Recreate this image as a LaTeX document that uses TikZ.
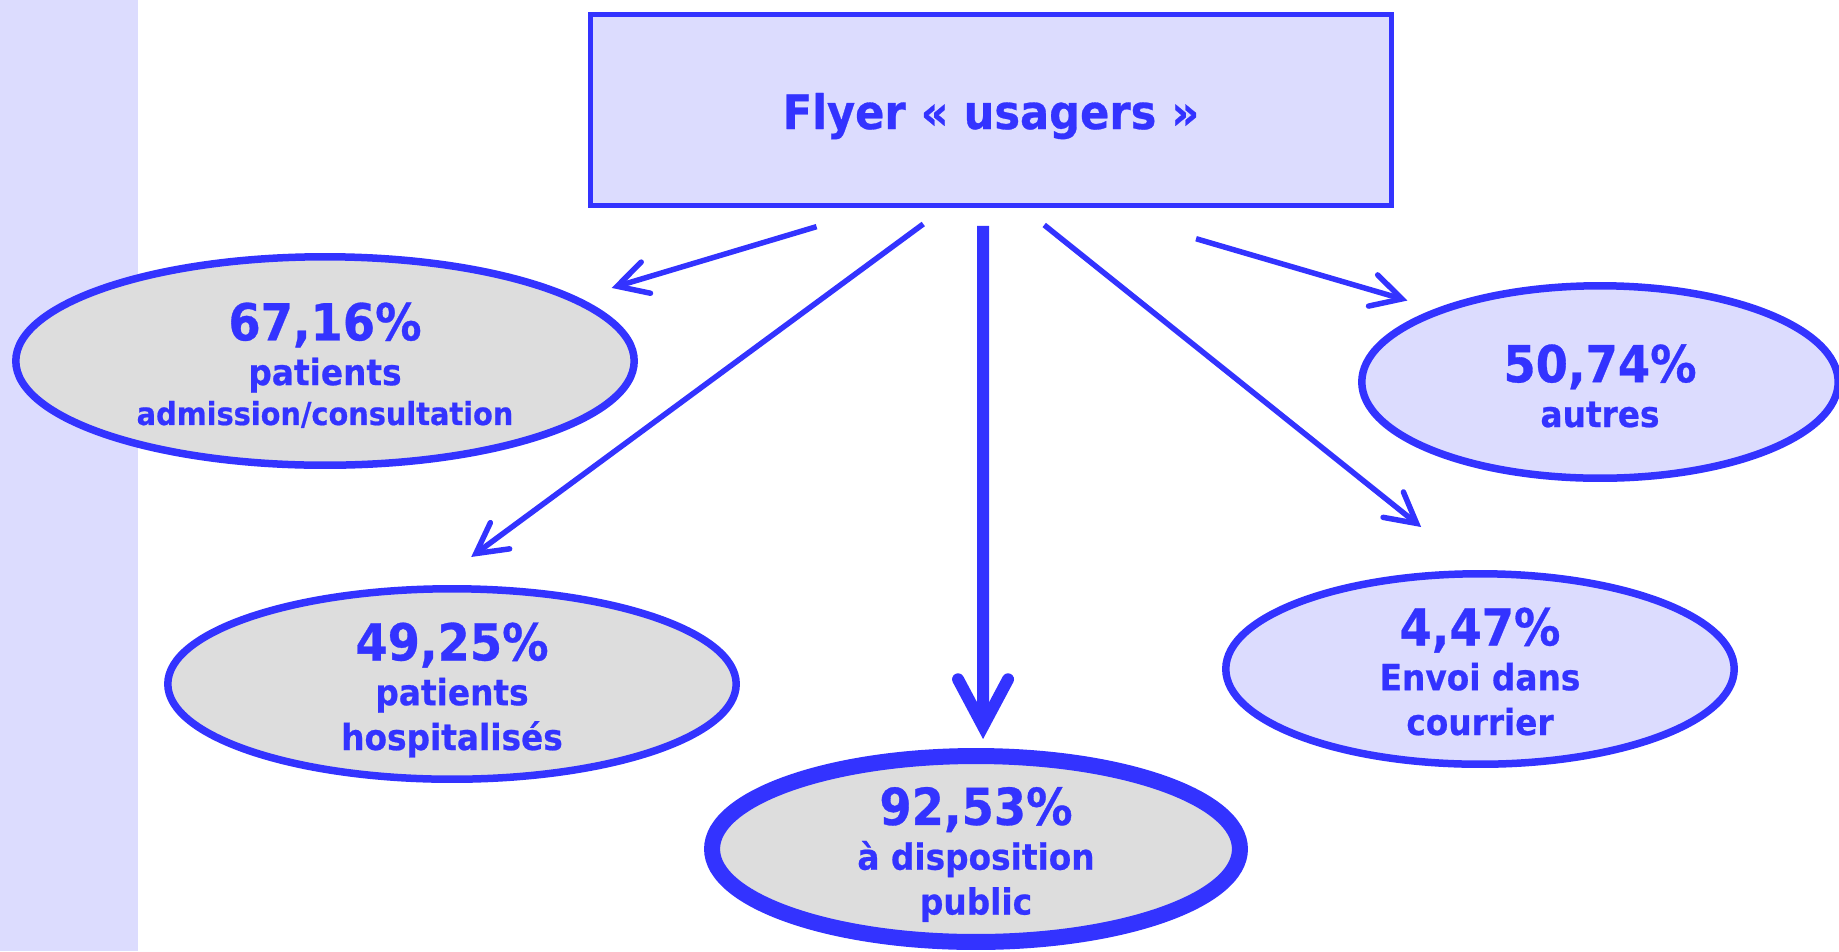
\documentclass[tikz,border=0pt]{standalone}
\usepackage{fontspec}
\setmainfont{DejaVu Sans}[FakeStretch=0.91,FakeBold=0.6]
\usetikzlibrary{arrows.meta,shapes.geometric}
\definecolor{flyblue}{RGB}{51,51,255}
\definecolor{flylav}{RGB}{220,220,254}
\definecolor{flygray}{RGB}{221,221,221}
\tikzset{
	bulle/.style={ellipse, draw=flyblue, line width=0.15cm, inner sep=0pt, align=center, text=flyblue, font=\bfseries\fontsize{20.5}{25.5}\selectfont, text depth=0pt},
	fleche/.style={draw=flyblue, line width=0.11cm, -{Straight Barb[length=0.6cm,width=0.65cm,line cap=round,line join=miter]}},
	grosse/.style={line width=0.24cm, -{Straight Barb[length=0.94cm,width=1.0cm,line cap=round,line join=miter]}}
}
\newcommand{\pct}[1]{{\fontsize{29}{25.5}\selectfont #1\%}}
\begin{document}
\begin{tikzpicture}[x=0.02cm,y=-0.02cm]
			\useasboundingbox (0,0) rectangle (1839,951);
			\fill[flylav] (0,0) rectangle (138,951);
			
			\node[draw=flyblue, fill=flylav, line width=0.1cm, minimum width=16.02cm, minimum height=3.82cm, text=flyblue, font=\bfseries\fontsize{27}{30}\selectfont, text height=0.8cm, text depth=0.04cm] (flyer) at (991,110) {Flyer « usagers »};
			
			\node[bulle, fill=flygray, minimum width=12.37cm, minimum height=4.17cm, text height=2.56cm] (pA) at (325,361) {\pct{67,16}\\patients\\[-2.8pt]{\fontsize{18}{25.5}\selectfont admission/consultation}};
			\node[bulle, fill=flygray, minimum width=11.37cm, minimum height=3.81cm, text height=2.64cm] (pB) at (452,684) {\pct{49,25}\\patients\\hospitalisés};
			\node[bulle, fill=flygray, line width=0.32cm, minimum width=10.56cm, minimum height=3.72cm, text height=2.62cm] (pC) at (976,849) {\pct{92,53}\\à disposition\\public};
			\node[bulle, fill=flylav, minimum width=9.53cm, minimum height=3.85cm, text height=1.8cm] (pD) at (1600,382) {\pct{50,74}\\autres};
			\node[bulle, fill=flylav, minimum width=10.17cm, minimum height=3.81cm, text height=2.64cm] (pE) at (1480,669) {\pct{4,47}\\Envoi dans\\courrier};
			
			\coordinate (t1) at ([xshift=-2.24cm]flyer.south);
			\coordinate (t2) at ([xshift=-0.92cm]flyer.south);
			\coordinate (t3) at ([xshift=-0.16cm]flyer.south);
			\coordinate (t4) at ([xshift=0.64cm]flyer.south);
			\coordinate (t5) at ([xshift=2cm]flyer.south);
			
			\draw[fleche, shorten <=1.304cm, shorten >=0.688cm] (t1) -- (pA.14.7);
			\draw[fleche, shorten <=0.54cm, shorten >=0.954cm] (t2) -- (pB.101.7);
			\draw[fleche, grosse, shorten <=0.36cm, shorten >=0.18cm] (t3) -- (pC.86);
			\draw[fleche, shorten <=0.544cm, shorten >=1.376cm] (t4) -- (pE.93.1);
			\draw[fleche, shorten <=2.19cm, shorten >=0.583cm] (t5) -- (pD.156.3);
\end{tikzpicture}
\end{document}
